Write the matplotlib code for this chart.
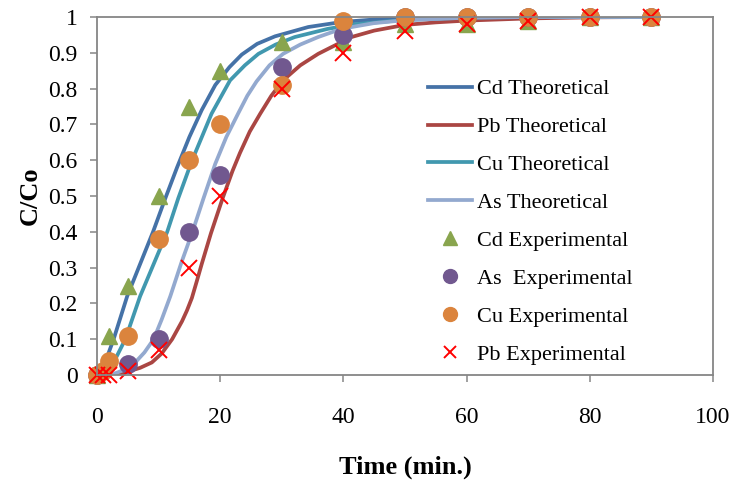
import matplotlib

matplotlib.use("Agg")

import matplotlib.pyplot as plt  # noqa: E402
from matplotlib.lines import Line2D  # noqa: E402
from matplotlib.ticker import FormatStrFormatter  # noqa: E402

# theoretical curves, values
CD_T = [0, 1, 2.7, 4.9, 7, 9.1, 11.1, 13, 15, 17, 19.2, 21.5, 23.5, 26, 28.9,
        34.3, 39.7, 45, 50, 60, 70, 80, 90]
CD_V = [0.005, 0.02, 0.10, 0.22, 0.31, 0.40, 0.494, 0.58, 0.665, 0.74, 0.81,
        0.86, 0.895, 0.925, 0.946, 0.972, 0.986, 0.993, 0.996, 0.999, 1, 1, 1]

PB_T = [0, 2, 3.5, 5.1, 7, 8.9, 10.5, 12.2, 13.8, 14.6, 15.4, 16.2, 17, 18.5,
        20.4, 22, 23.2, 24.8, 26.5, 28.3, 30.2, 33, 35.9, 41.3, 45, 50, 55,
        60, 70, 80, 90]
PB_V = [0, 0.0, 0.003, 0.01, 0.02, 0.035, 0.06, 0.10, 0.15, 0.18, 0.215,
        0.262, 0.31, 0.396, 0.494, 0.57, 0.62, 0.68, 0.73, 0.78, 0.823, 0.865,
        0.897, 0.944, 0.962, 0.978, 0.985, 0.99, 0.996, 0.999, 1]

CU_T = [0, 1, 2, 2.7, 4.6, 7, 9.2, 11.4, 13.2, 15.4, 18.6, 21.6, 24, 26.2, 29,
        32.1, 37.5, 42, 50, 60, 70, 80, 90]
CU_V = [0.0, 0.008, 0.022, 0.035, 0.10, 0.22, 0.31, 0.40, 0.494, 0.598, 0.73,
        0.823, 0.865, 0.897, 0.923, 0.944, 0.967, 0.98, 0.992, 0.998, 1, 1, 1]

AS_T = [0, 1.5, 3, 4.5, 6.2, 7.7, 9.2, 10.5, 11.9, 13.7, 15.5, 17.3, 19.2, 21,
        22.9, 24.4, 25.9, 28, 30.2, 33, 35.9, 39.7, 45, 50, 60, 70, 80, 90]
AS_V = [0, 0.001, 0.005, 0.015, 0.035, 0.063, 0.10, 0.155, 0.22, 0.314, 0.40,
        0.494, 0.59, 0.665, 0.73, 0.78, 0.82, 0.865, 0.897, 0.923, 0.944,
        0.967, 0.983, 0.991, 0.998, 1, 1, 1]

# experimental points
CD_EXP_T = [0, 2, 5, 10, 15, 20, 30, 40, 50, 60, 70, 80, 90]
CD_EXP_V = [0, 0.11, 0.25, 0.50, 0.75, 0.85, 0.93, 0.93, 0.98, 0.98, 0.99, 1, 1]

AS_EXP_T = [0, 5, 10, 15, 20, 30, 40, 50, 60, 70, 80, 90]
AS_EXP_V = [0, 0.03, 0.10, 0.40, 0.56, 0.86, 0.95, 1, 1, 1, 1, 1]

CU_EXP_T = [0, 1, 2, 5, 10, 15, 20, 30, 40, 50, 60, 70, 80, 90]
CU_EXP_V = [0, 0.01, 0.04, 0.11, 0.38, 0.60, 0.70, 0.81, 0.99, 1, 1, 1, 1, 1]

PB_EXP_T = [0, 1, 2, 5, 10, 15, 20, 30, 40, 50, 60, 70, 80, 90]
PB_EXP_V = [0, 0, 0, 0.01, 0.07, 0.30, 0.50, 0.80, 0.90, 0.96, 0.98, 0.99, 1, 1]

X_TICKS = [0, 20, 40, 60, 80, 100]
Y_TICKS = [0, 0.1, 0.2, 0.3, 0.4, 0.5, 0.6, 0.7, 0.8, 0.9, 1]

GREY = "#868686"

plt.rcParams["font.family"] = ["Liberation Serif", "DejaVu Serif"]


def main() -> None:
    fig = plt.figure(figsize=(7.36, 4.84), dpi=100)
    ax = fig.add_axes([97 / 736, 109 / 484, 616 / 736, 358 / 484])

    lw = 2.7
    ax.plot(CD_T, CD_V, color="#4572A7", lw=lw, solid_capstyle="round",
            solid_joinstyle="round")
    ax.plot(PB_T, PB_V, color="#AA4643", lw=lw, solid_capstyle="round",
            solid_joinstyle="round")
    ax.plot(CU_T, CU_V, color="#4198AF", lw=lw, solid_capstyle="round",
            solid_joinstyle="round")
    ax.plot(AS_T, AS_V, color="#93A9CF", lw=lw, solid_capstyle="round",
            solid_joinstyle="round")

    ax.plot(CD_EXP_T, CD_EXP_V, ls="none", marker="^", ms=12,
            color="#89A54E", mec="#89A54E", clip_on=False)
    ax.plot(AS_EXP_T, AS_EXP_V, ls="none", marker="o", ms=12.5,
            color="#71588F", mec="#71588F", clip_on=False)
    ax.plot(CU_EXP_T, CU_EXP_V, ls="none", marker="o", ms=12.5,
            color="#DB843D", mec="#DB843D", clip_on=False)
    ax.plot(PB_EXP_T, PB_EXP_V, ls="none", marker="x", ms=11, mew=1.4,
            color="#FF0000", clip_on=False)

    ax.set_xlim(0, 100)
    ax.set_ylim(0, 1)
    ax.set_xticks(X_TICKS)
    ax.set_yticks(Y_TICKS)
    ax.yaxis.set_major_formatter(FormatStrFormatter("%g"))

    for side in ["left", "bottom", "top", "right"]:
        ax.spines[side].set_color(GREY)
        ax.spines[side].set_linewidth(1.3)
    ax.tick_params(axis="both", direction="out", length=5, width=1.1,
                   color=GREY, labelsize=17)
    ax.tick_params(axis="x", pad=18)
    ax.tick_params(axis="y", pad=9)

    ax.set_xlabel("Time (min.)", fontsize=19, fontweight="bold")
    ax.set_ylabel("C/Co", fontsize=19, fontweight="bold")
    ax.xaxis.set_label_coords(0.5, -0.225)
    ax.yaxis.set_label_coords(-0.09, 0.5)

    handles = [
        Line2D([], [], color="#4572A7", lw=lw),
        Line2D([], [], color="#AA4643", lw=lw),
        Line2D([], [], color="#4198AF", lw=lw),
        Line2D([], [], color="#93A9CF", lw=lw),
        Line2D([], [], ls="none", marker="^", ms=10, color="#89A54E"),
        Line2D([], [], ls="none", marker="o", ms=10, color="#71588F"),
        Line2D([], [], ls="none", marker="o", ms=10, color="#DB843D"),
        Line2D([], [], ls="none", marker="x", ms=9, mew=1.4, color="#FF0000"),
    ]
    labels = ["Cd Theoretical", "Pb Theoretical", "Cu Theoretical",
              "As Theoretical", "Cd Experimental", "As  Experimental",
              "Cu Experimental", "Pb Experimental"]
    ax.legend(handles, labels, loc="upper left", bbox_to_anchor=(0.537, 0.827),
              frameon=False, fontsize=16, borderpad=0, borderaxespad=0,
              handlelength=2.0, handletextpad=0.2, labelspacing=0.78)

    fig.savefig("out.png", dpi=100)
    plt.close(fig)


if __name__ == "__main__":
    main()
